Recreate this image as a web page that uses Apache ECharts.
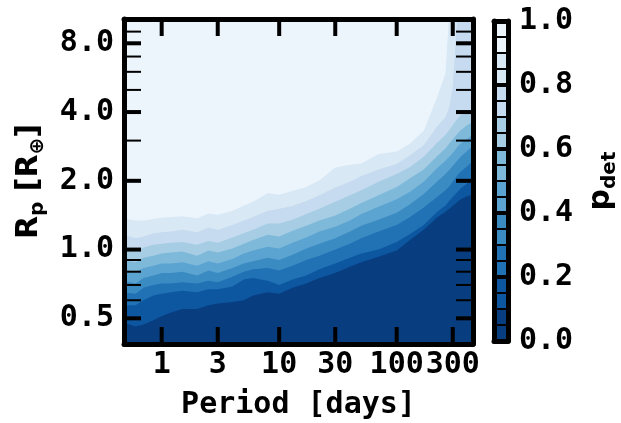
<!DOCTYPE html>
<html>
<head>
<meta charset="utf-8">
<script src="https://cdn.jsdelivr.net/npm/echarts@6/dist/echarts.min.js"></script>
<style>
  html, body { margin: 0; padding: 0; background: #fff; }
  #chart { width: 621px; height: 423px; }
</style>
</head>
<body>
<div id="chart"></div>
<script>
// orbital periods (days) where the contour boundaries were read
var periods = [0.47, 0.6, 0.7, 0.85, 1, 1.2, 1.5, 2, 2.5, 3, 4, 5, 6, 8, 10, 13, 17, 22, 30, 40,
  50, 70, 100, 130, 170, 220, 260, 280, 300, 330, 350, 400, 450];

// planet radius (R_earth) of each p_det contour at those periods
var rP10 = [0.48, 0.46, 0.47, 0.49, 0.51, 0.53, 0.55, 0.55, 0.57, 0.58, 0.59, 0.60, 0.63, 0.65, 0.64, 0.68, 0.71,
  0.75, 0.79, 0.84, 0.88, 0.93, 0.99, 1.10, 1.22, 1.38, 1.46, 1.51, 1.55, 1.62, 1.66, 1.71, 1.75];
var rP20 = [0.57, 0.57, 0.60, 0.63, 0.64, 0.65, 0.66, 0.65, 0.67, 0.67, 0.69, 0.74, 0.75, 0.73, 0.70, 0.74, 0.77,
  0.82, 0.87, 0.92, 0.96, 1.00, 1.08, 1.17, 1.28, 1.46, 1.56, 1.63, 1.70, 1.79, 1.85, 1.95, 2.01];
var rP30 = [0.65, 0.64, 0.68, 0.70, 0.71, 0.71, 0.72, 0.71, 0.73, 0.72, 0.76, 0.80, 0.82, 0.83, 0.81, 0.85, 0.90,
  0.94, 1.00, 1.06, 1.12, 1.20, 1.28, 1.39, 1.53, 1.70, 1.82, 1.89, 1.98, 2.12, 2.19, 2.32, 2.46];
var rP40 = [0.73, 0.71, 0.75, 0.77, 0.79, 0.79, 0.80, 0.77, 0.81, 0.79, 0.83, 0.87, 0.89, 0.92, 0.90, 0.95, 1.01,
  1.06, 1.12, 1.20, 1.27, 1.35, 1.45, 1.58, 1.75, 1.98, 2.14, 2.23, 2.32, 2.46, 2.55, 2.71, 2.87];
var rP50 = [0.81, 0.80, 0.83, 0.85, 0.87, 0.87, 0.88, 0.85, 0.89, 0.87, 0.91, 0.96, 0.99, 1.03, 1.01, 1.07, 1.13,
  1.20, 1.26, 1.34, 1.43, 1.54, 1.66, 1.79, 1.98, 2.27, 2.45, 2.55, 2.65, 2.82, 2.91, 3.06, 3.20];
var rP60 = [0.90, 0.88, 0.92, 0.94, 0.96, 0.97, 0.98, 0.94, 0.99, 0.97, 1.01, 1.06, 1.10, 1.16, 1.14, 1.21, 1.27,
  1.34, 1.41, 1.51, 1.60, 1.73, 1.88, 2.05, 2.24, 2.56, 2.77, 2.91, 3.03, 3.22, 3.33, 3.51, 3.63];
var rP70 = [1.01, 0.98, 1.02, 1.05, 1.06, 1.07, 1.08, 1.05, 1.09, 1.07, 1.13, 1.18, 1.22, 1.30, 1.30, 1.35, 1.43,
  1.51, 1.62, 1.73, 1.82, 1.98, 2.14, 2.30, 2.55, 2.93, 3.17, 3.33, 3.51, 3.75, 3.88, 4.01, 4.10];
var rP80 = [1.16, 1.12, 1.14, 1.18, 1.19, 1.20, 1.22, 1.19, 1.25, 1.22, 1.28, 1.34, 1.39, 1.48, 1.51, 1.55, 1.63,
  1.73, 1.87, 1.98, 2.10, 2.24, 2.37, 2.59, 2.87, 3.45, 3.81, 4.22, 5.16, 11, 11, 11, 11];
var rP90 = [1.37, 1.34, 1.34, 1.36, 1.38, 1.39, 1.40, 1.37, 1.44, 1.42, 1.48, 1.56, 1.62, 1.77, 1.74, 1.81, 1.88,
  2.01, 2.29, 2.35, 2.38, 2.62, 2.69, 2.91, 3.31, 4.63, 5.90, 11, 11, 11, 11, 11, 11];

var levels = [0, 0.1, 0.2, 0.3, 0.4, 0.5, 0.6, 0.7, 0.8, 0.9, 1.0];
// Blues_r, one colour per band (0-0.1 ... 0.9-1.0)
var bandColors = ['#083d7f', '#0d57a1', '#2171b5', '#3b8bc3', '#5ba3d0',
  '#7fb9da', '#a6cde4', '#c6dbef', '#d9e8f5', '#edf5fc'];

var periodTicks = [1, 3, 10, 30, 100, 300];
var radiusTicks = [0.5, 1, 2, 4, 8];
var radiusMinorTicks = [0.6, 0.7, 0.8, 0.9, 3, 5, 6, 7, 9];

// both axes are logarithmic: work in log10 units on value axes
var lg = Math.log10;
var xMin = lg(0.478), xMax = lg(446);
var yMin = lg(0.386), yMax = lg(10.22);

var chart = echarts.init(document.getElementById('chart'));

var black = '#000';
var tickFont = { fontFamily: 'DejaVu Sans Mono', fontWeight: 'bold', fontSize: 30, color: black };

function logAxis(pos, min, max, ticks, withLabels, fmt) {
  var label = { show: withLabels, customValues: ticks.map(lg), margin: pos === 'left' ? 10 : 6, formatter: fmt };
  if (withLabels) Object.assign(label, tickFont);
  return {
    type: 'value', gridIndex: 0, position: pos, min: min, max: max, z: 10,
    axisLine: { show: true, onZero: false, lineStyle: { color: black, width: 5 } },
    axisTick: { show: false },
    axisLabel: label,
    splitLine: { show: false }
  };
}
var fmtPeriod = function (v) { return String(Math.round(Math.pow(10, v))); };
var fmtRadius = function (v) { return Math.pow(10, v).toFixed(1); };

var subRich = {
  b: { fontFamily: 'DejaVu Sans', fontWeight: 'bold', fontSize: 30, color: black, lineHeight: 30, verticalAlign: 'top' },
  s: { fontFamily: 'DejaVu Sans', fontWeight: 'bold', fontSize: 20, color: black, lineHeight: 20,
    verticalAlign: 'top', padding: [14, 0, 0, 0] }
};

var xBottom = logAxis('bottom', xMin, xMax, periodTicks, true, fmtPeriod);
xBottom.name = 'Period [days]';
xBottom.nameLocation = 'middle';
xBottom.nameGap = 46;
xBottom.nameTextStyle = tickFont;

var yLeft = logAxis('left', yMin, yMax, radiusTicks, true, fmtRadius);
yLeft.name = '{b|R}{s|p}{b| [R}{s|⊕}{b|]}';
yLeft.nameLocation = 'middle';
yLeft.nameRotate = 90;
yLeft.nameGap = 80;
yLeft.nameTextStyle = { rich: subRich };

// colorbar axes
function cbarAxis(pos) {
  return {
    type: 'value', gridIndex: 1, position: pos, min: 0, max: 1, interval: 0.2, z: 10,
    axisLine: { show: true, onZero: false, lineStyle: { color: black, width: 5 } },
    axisTick: { show: true, inside: true, length: 14, lineStyle: { color: black, width: 4 } },
    minorTick: { show: true, splitNumber: 4, length: 14, lineStyle: { color: black, width: 2 } },
    axisLabel: { show: false },
    splitLine: { show: false }
  };
}
var cbarRight = cbarAxis('right');
cbarRight.axisLabel = Object.assign({ show: true, margin: 11,
  formatter: function (v) { return v.toFixed(1); } }, tickFont);
cbarRight.name = '{b|p}{s|det}';
cbarRight.nameLocation = 'middle';
cbarRight.nameRotate = 90;
cbarRight.nameGap = 78;
cbarRight.nameTextStyle = { rich: subRich };

function cbarX(pos) {
  return {
    type: 'category', gridIndex: 1, position: pos, data: ['pdet'], z: 10,
    axisLine: { show: true, onZero: false, lineStyle: { color: black, width: 5 } },
    axisTick: { show: false }, axisLabel: { show: false }, splitLine: { show: false }
  };
}

var series = [];
var contours = [rP10, rP20, rP30, rP40, rP50, rP60, rP70, rP80, rP90];
// lightest band is the grid background; fill below each contour, darkest last
for (var k = contours.length - 1; k >= 0; k--) {
  series.push({
    type: 'line', xAxisIndex: 0, yAxisIndex: 0,
    symbol: 'none',
    lineStyle: { width: 0 },
    areaStyle: { color: bandColors[k], opacity: 1, origin: 'start' },
    data: periods.map(function (p, i) { return [lg(p), lg(contours[k][i])]; })
  });
}
for (var j = 0; j < bandColors.length; j++) {
  series.push({
    type: 'bar', xAxisIndex: 2, yAxisIndex: 2, stack: 'cbar', barWidth: '100%',
    itemStyle: { color: bandColors[j] },
    data: [+(levels[j + 1] - levels[j]).toFixed(2)]
  });
}

chart.setOption({
  animation: false,
  grid: [
    { left: 124, top: 19, width: 349, height: 325, show: true, backgroundColor: bandColors[9],
      borderWidth: 0, outerBoundsMode: 'none' },
    { left: 494, top: 21, width: 14, height: 320, outerBoundsMode: 'none' }
  ],
  xAxis: [
    xBottom,
    logAxis('top', xMin, xMax, periodTicks, false, fmtPeriod),
    cbarX('bottom'),
    cbarX('top')
  ],
  yAxis: [
    yLeft,
    logAxis('right', yMin, yMax, radiusTicks, false, fmtRadius),
    cbarRight,
    cbarAxis('left')
  ],
  series: series
});

// inward ticks on all four sides of the main panel, placed through the grid's scales
var L = 17;
var tickLines = [];
function px(x, y) { return chart.convertToPixel({ gridIndex: 0 }, [x, y]); }
function tick(x1, y1, x2, y2, w) {
  tickLines.push({ type: 'line', z: 100, silent: true,
    shape: { x1: x1, y1: y1, x2: x2, y2: y2 }, style: { stroke: black, lineWidth: w } });
}
periodTicks.forEach(function (v) {
  var b = px(lg(v), yMin), t = px(lg(v), yMax);
  tick(b[0], b[1], b[0], b[1] - L, 4);
  tick(t[0], t[1], t[0], t[1] + L, 4);
});
function yTicks(vals, w) {
  vals.forEach(function (v) {
    var l = px(xMin, lg(v)), r = px(xMax, lg(v));
    tick(l[0], l[1], l[0] + L, l[1], w);
    tick(r[0], r[1], r[0] - L, r[1], w);
  });
}
yTicks(radiusTicks, 4);
yTicks(radiusMinorTicks, 2);
chart.setOption({ graphic: tickLines });
</script>
</body>
</html>
